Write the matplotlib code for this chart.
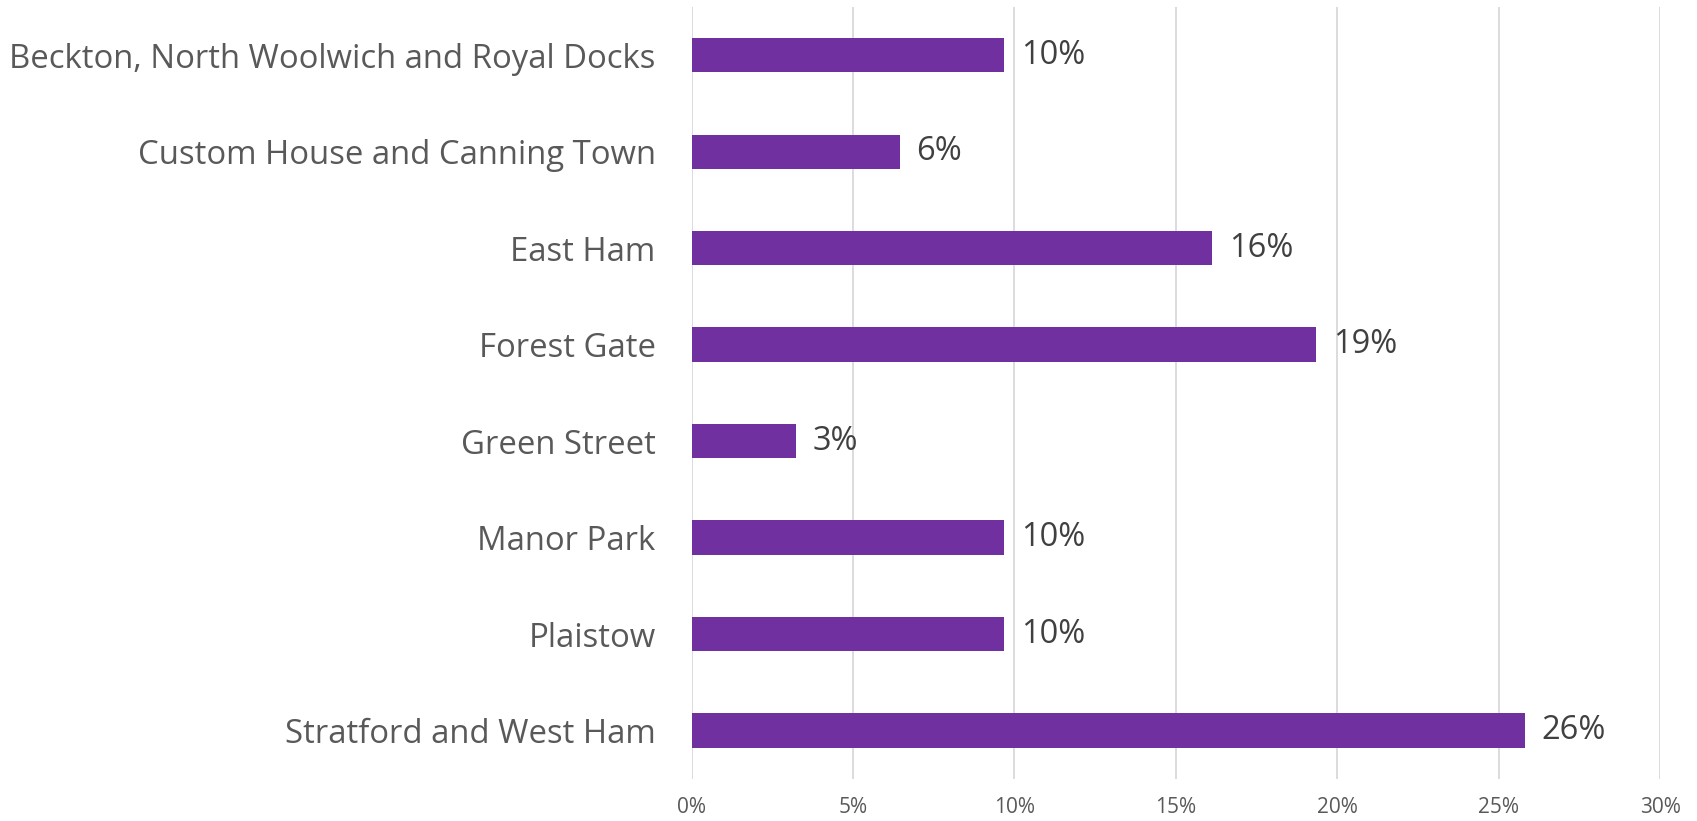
import matplotlib
matplotlib.use("Agg")
import matplotlib.pyplot as plt
from matplotlib.ticker import PercentFormatter, MultipleLocator

# Share of respondents by Newham community neighbourhood
areas = [
    "Beckton, North Woolwich and Royal Docks",
    "Custom House and Canning Town",
    "East Ham",
    "Forest Gate",
    "Green Street",
    "Manor Park",
    "Plaistow",
    "Stratford and West Ham",
]
shares = [0.0968, 0.0645, 0.1613, 0.1935, 0.0323, 0.0968, 0.0968, 0.2581]

BAR_COLOR = "#7030A0"
LABEL_COLOR = "#595959"
VALUE_COLOR = "#404040"
GRID_COLOR = "#D9D9D9"

plt.rcParams["font.family"] = ["Open Sans", "DejaVu Sans"]

fig = plt.figure(figsize=(16.97, 8.21), dpi=100)
ax = fig.add_axes([0.4076, 0.0512, 0.9782 - 0.4076, 0.9915 - 0.0512])

ypos = list(range(len(areas)))
ax.barh(ypos, shares, height=0.357, color=BAR_COLOR, zorder=3)

for y, v in zip(ypos, shares):
    ax.annotate(f"{v:.0%}", xy=(v, y), xytext=(12, 0), textcoords="offset points",
                va="center", ha="left", fontsize=23.5, color=VALUE_COLOR)

ax.set_xlim(0, 0.30)
ax.set_ylim(len(areas) - 0.5, -0.5)
ax.xaxis.set_major_locator(MultipleLocator(0.05))
ax.xaxis.set_major_formatter(PercentFormatter(1.0, decimals=0))
ax.set_yticks(ypos)
ax.set_yticklabels(areas)

ax.grid(axis="x", color=GRID_COLOR, linewidth=1.3, zorder=0)
for s in ax.spines.values():
    s.set_visible(False)
ax.tick_params(axis="y", length=0, pad=26, labelsize=23.7, labelcolor=LABEL_COLOR)
ax.tick_params(axis="x", length=0, pad=13, labelsize=15, labelcolor=LABEL_COLOR)

fig.savefig("out.png", dpi=100)
